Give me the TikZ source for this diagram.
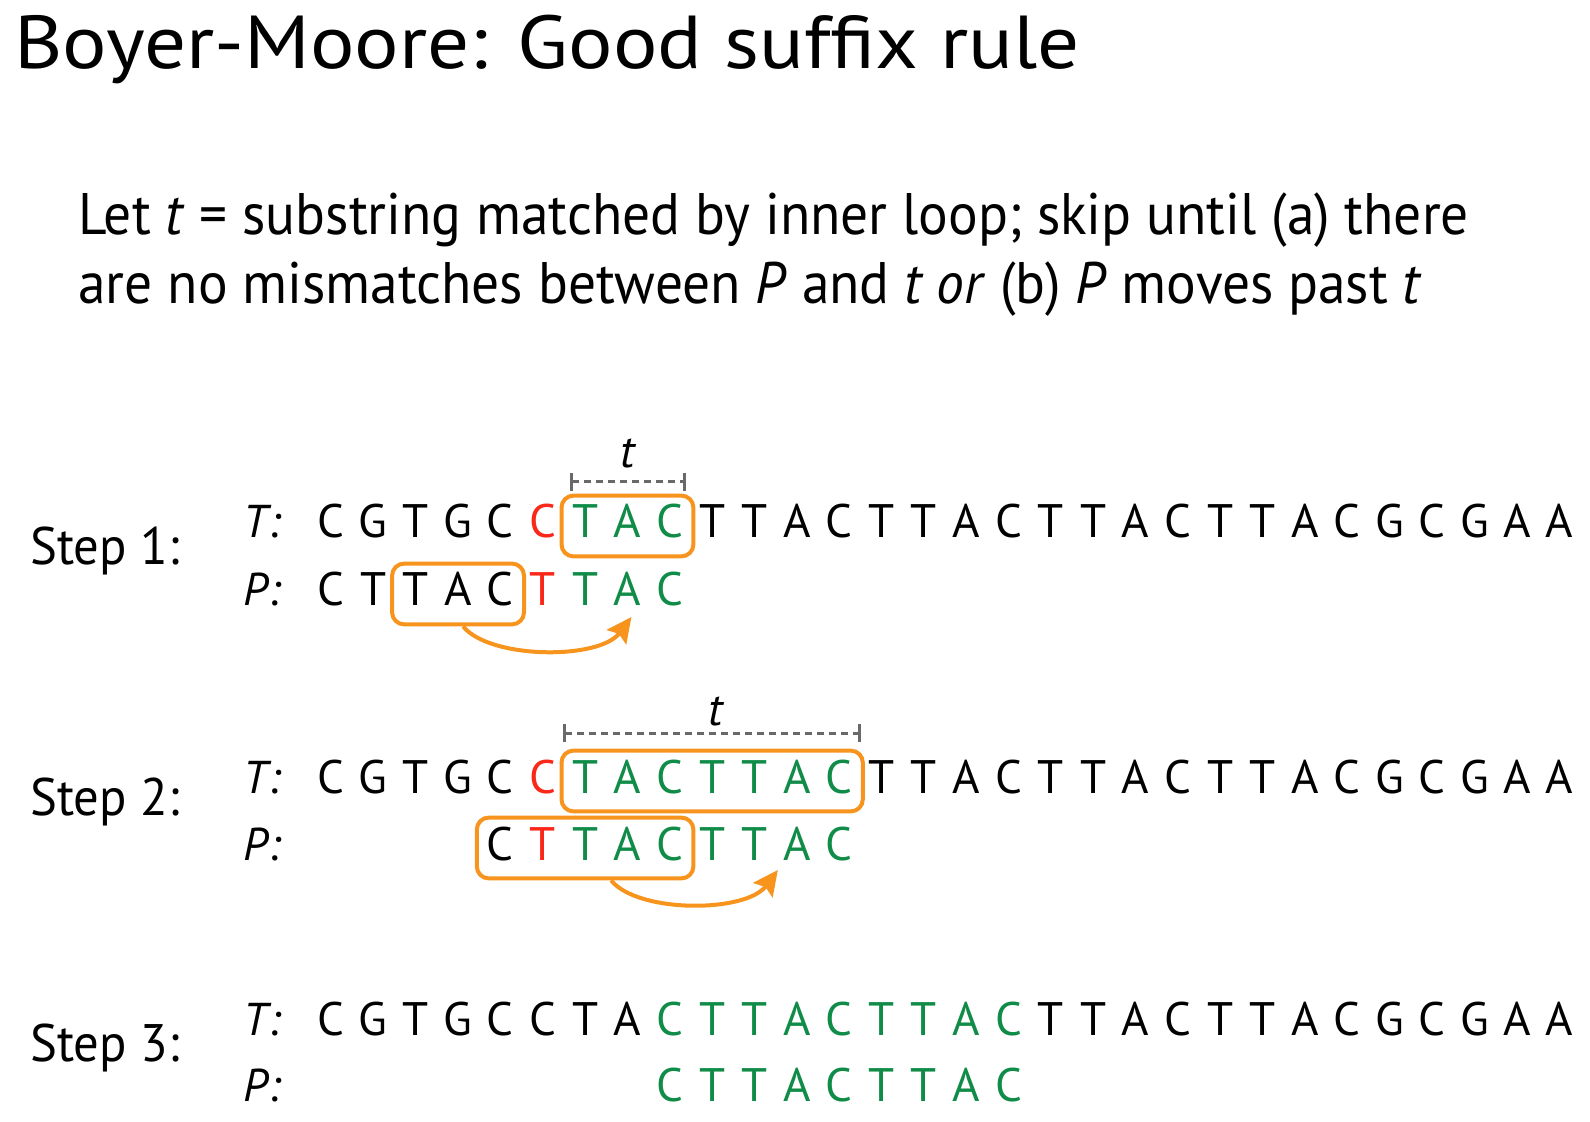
\documentclass[tikz,border=0pt]{standalone}
\usepackage{fontspec}
\setmainfont{PT Sans}
\newfontfamily\titlefont[FakeStretch=1.108]{PT Sans}
\newfontfamily\rulefont[FakeStretch=0.946]{PT Sans}
\newfontfamily\stepfont[FakeStretch=0.96]{PT Sans}
\usetikzlibrary{arrows.meta, positioning, calc, fit}
\definecolor{matchgreen}{RGB}{16,140,72}
\definecolor{mismatchred}{RGB}{250,40,25}
\definecolor{boxorange}{RGB}{247,148,30}
\definecolor{bracketgray}{RGB}{105,105,105}
\def\Tseq{C,G,T,G,C,C,T,A,C,T,T,A,C,T,T,A,C,T,T,A,C,T,T,A,C,G,C,G,A,A}
\def\Pseq{C,T,T,A,C,T,T,A,C}

\begin{document}
\begin{tikzpicture}[x=0.5pt,y=-0.5pt,
    letter/.style={font=\fontsize{23.5}{27}\selectfont, inner sep=0pt, minimum width=21.2pt, text height=16pt, text depth=0pt, anchor=base},
    rowlabel/.style={font=\fontsize{23}{27}\selectfont\itshape, anchor=base, inner sep=0pt},
    steplabel/.style={font=\stepfont\fontsize{26.4}{30}\selectfont, anchor=base west, inner sep=0pt},
    bodytext/.style={font=\rulefont\fontsize{29.3}{34.5}\selectfont, anchor=base west, inner sep=0pt},
    hitbox/.style={draw=boxorange, line width=2pt, rounded corners=6pt, inner xsep=1pt, inner ysep=7pt, yshift=-2pt},
    tbracket/.style={draw=bracketgray, line width=1.5pt, dash pattern=on 3.5pt off 2.5pt, {Bar[width=9pt]}-{Bar[width=9pt]}},
    tlabel/.style={font=\fontsize{23}{27}\selectfont\itshape, anchor=base, inner sep=0pt},
    shiftarrow/.style={draw=boxorange, line width=2pt, -{Stealth[length=12.5pt,width=12pt,inset=2pt]}}
  ]
  \useasboundingbox (0,0) rectangle (1590,1122);

  % Title and rule
  \node[font=\titlefont\fontsize{37.5}{44}\selectfont, anchor=base west, inner sep=0pt] (title) at (14,69) {Boyer-Moore: Good suffix rule};
  \node[bodytext] (rule1) at (78,235) {Let \textit{t} = substring matched by inner loop; skip until (a) there};
  \node[bodytext] (rule2) at (78,304) {are no mismatches between \textit{P} and \textit{t or} (b) \textit{P} moves past \textit{t}};

  % Step labels
  \node[steplabel] (step1) at (30,565) {Step 1:};
  \node[steplabel] (step2) at (30,815) {Step 2:};
  \node[steplabel] (step3) at (30,1061) {Step 3:};

  \node[rowlabel] (tlab1) at (262,538) {T:};
  \node[rowlabel] (plab1) at (262,606) {P:};
  \node[rowlabel] (tlab2) at (262,793) {T:};
  \node[rowlabel] (plab2) at (262,860) {P:};
  \node[rowlabel] (tlab3) at (262,1035) {T:};
  \node[rowlabel] (plab3) at (262,1101) {P:};

  % Step 1
  \foreach \ch [count=\i from 0] in \Tseq {
    \def\col{black}
    \ifnum\i=5 \def\col{mismatchred}\fi
    \ifnum\i>5 \ifnum\i<9 \def\col{matchgreen}\fi\fi
    \node[letter, text=\col] (t1-\i) at ({331+42.35*\i},538) {\ch};
  }
  \foreach \ch [count=\i from 0] in \Pseq {
    \def\col{black}
    \ifnum\i=5 \def\col{mismatchred}\fi
    \ifnum\i>5 \def\col{matchgreen}\fi
    \node[letter, text=\col] (p1-\i) at ({331+42.35*\i},606) {\ch};
  }
  \node[hitbox, fit=(t1-6)(t1-8)] (tb1) {};
  \node[hitbox, fit=(p1-2)(p1-4)] (pb1) {};
  \draw[tbracket] ($(t1-6.base)+(-15,-56)$) -- ($(t1-8.base)+(16,-56)$);
  \node[tlabel] (tl1) at ($(t1-7.base)+(0,-70)$) {t};
  \draw[shiftarrow] ($(pb1.south)+(5,0)$) .. controls +(27,33) and +(-32,43) .. ($(p1-7.base)+(4,11)$);

  % Step 2
  \foreach \ch [count=\i from 0] in \Tseq {
    \def\col{black}
    \ifnum\i=5 \def\col{mismatchred}\fi
    \ifnum\i>5 \ifnum\i<13 \def\col{matchgreen}\fi\fi
    \node[letter, text=\col] (t2-\i) at ({331+42.35*\i},793) {\ch};
  }
  \foreach \ch [count=\i from 4] in \Pseq {
    \def\col{black}
    \ifnum\i=5 \def\col{mismatchred}\fi
    \ifnum\i>5 \def\col{matchgreen}\fi
    \node[letter, text=\col] (p2-\i) at ({331+42.35*\i},860) {\ch};
  }
  \node[hitbox, fit=(t2-6)(t2-12)] (tb2) {};
  \node[hitbox, fit=(p2-4)(p2-8)] (pb2) {};
  \draw[tbracket] ($(t2-6.base)+(-22,-60)$) -- ($(t2-12.base)+(22,-60)$);
  \node[tlabel] (tl2) at ($(t2-9.base)+(4,-68)$) {t};
  \draw[shiftarrow] ($(pb2.south)+(26,0)$) .. controls +(27,33) and +(-32,43) .. ($(p2-11.base)+(-19,10)$);

  % Step 3
  \foreach \ch [count=\i from 0] in \Tseq {
    \def\col{black}
    \ifnum\i>7 \ifnum\i<17 \def\col{matchgreen}\fi\fi
    \node[letter, text=\col] (t3-\i) at ({331+42.35*\i},1035) {\ch};
  }
  \foreach \ch [count=\i from 8] in \Pseq {
    \node[letter, text=matchgreen] (p3-\i) at ({331+42.35*\i},1101) {\ch};
  }
\end{tikzpicture}
\end{document}
